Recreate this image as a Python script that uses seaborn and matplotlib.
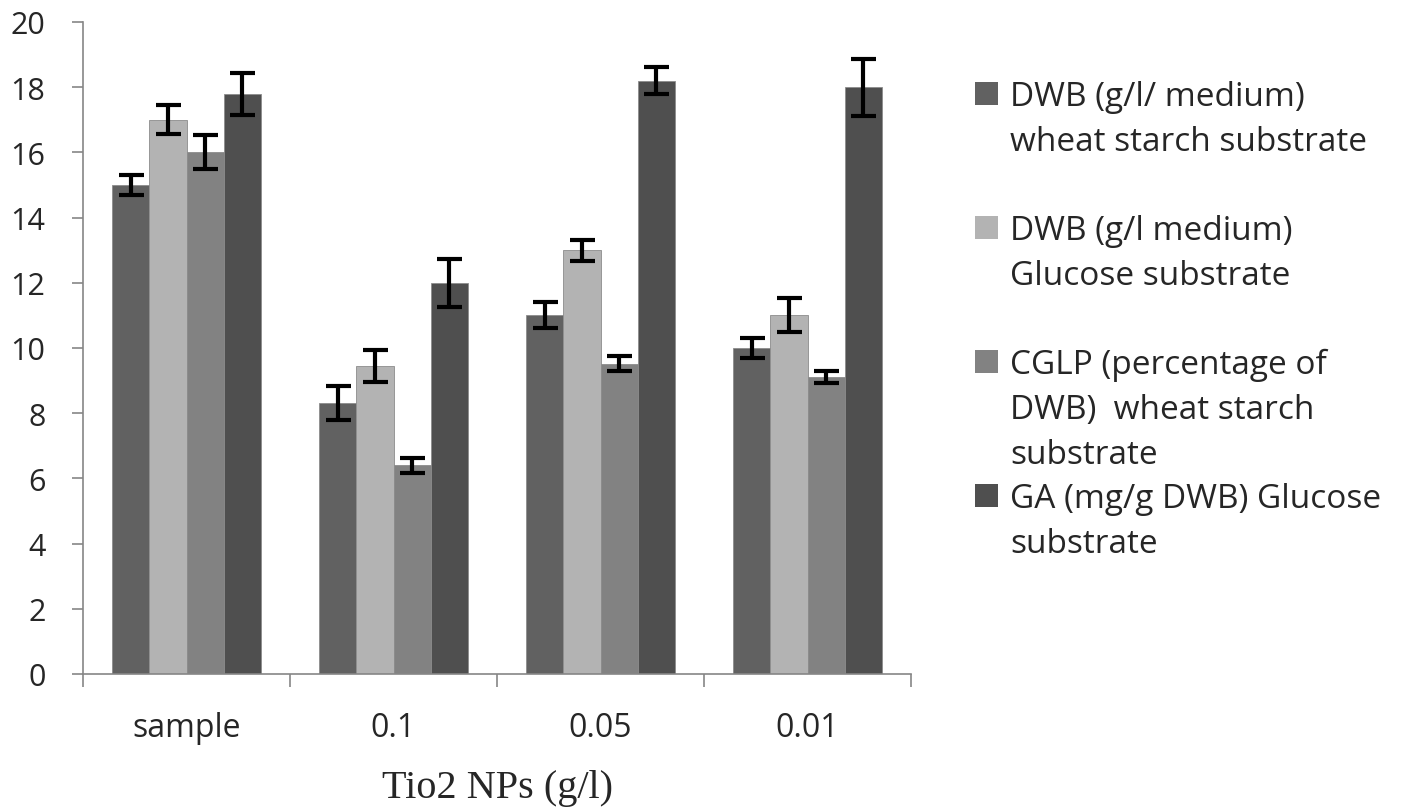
import matplotlib
matplotlib.use("Agg")
import matplotlib.pyplot as plt
import matplotlib.patches as mpatches
import seaborn as sns
import pandas as pd
import numpy as np

categories = ["sample", "0.1", "0.05", "0.01"]
series_names = [
    "DWB (g/l/ medium) wheat starch substrate",
    "DWB (g/l medium) Glucose substrate",
    "CGLP (percentage of DWB) wheat starch substrate",
    "GA (mg/g DWB) Glucose substrate",
]
legend_lines = [
    ["DWB (g/l/ medium)", "wheat starch substrate"],
    ["DWB (g/l medium)", "Glucose substrate"],
    ["CGLP (percentage of", "DWB)  wheat starch", "substrate"],
    ["GA (mg/g DWB) Glucose", "substrate"],
]
dwb_wheat = [15.0, 8.3, 11.0, 10.0]
dwb_wheat_err = [0.32, 0.52, 0.40, 0.31]
dwb_glucose = [17.0, 9.44, 13.0, 11.0]
dwb_glucose_err = [0.45, 0.49, 0.32, 0.52]
cglp_wheat = [16.0, 6.4, 9.52, 9.1]
cglp_wheat_err = [0.52, 0.24, 0.23, 0.18]
ga_glucose = [17.8, 12.0, 18.2, 18.0]
ga_glucose_err = [0.64, 0.73, 0.41, 0.87]
colors = ["#616161", "#b3b3b3", "#828282", "#4f4f4f"]
yticks = [0, 2, 4, 6, 8, 10, 12, 14, 16, 18, 20]
xlabel = "Tio2 NPs (g/l)"

values = [dwb_wheat, dwb_glucose, cglp_wheat, ga_glucose]
errors = [dwb_wheat_err, dwb_glucose_err, cglp_wheat_err, ga_glucose_err]

rows = []
for s, vals, errs in zip(series_names, values, errors):
    for c, v, e in zip(categories, vals, errs):
        rows.append({"cat": c, "series": s, "value": v, "err": e})
df = pd.DataFrame(rows)

sns.set_style("white")
plt.rcParams['font.family'] = ['Open Sans', 'DejaVu Sans']

fig = plt.figure(figsize=(14.18, 8.12), dpi=100)
ax = fig.add_axes([83/1418, 1-675/812, (911-83)/1418, (675-23)/812])

sns.barplot(data=df, x="cat", y="value", hue="series", order=categories,
            hue_order=series_names, palette=colors, width=0.72, errorbar=None,
            saturation=1, ax=ax, legend=False, edgecolor="#8c8c8c", linewidth=0.6)

# error bars at bar positions
for cont, errs in zip(ax.containers, errors):
    xs = [p.get_x() + p.get_width()/2 for p in cont.patches]
    hs = [p.get_height() for p in cont.patches]
    ax.errorbar(xs, hs, yerr=errs, fmt="none", ecolor="black",
                elinewidth=3, capsize=9, capthick=3, zorder=5)

ax.set_xlim(-0.5, len(categories) - 0.5)
ax.set_ylim(0, 20)
ax.set_yticks(yticks)
ax.set_yticklabels([str(t) for t in yticks], fontsize=22)
ax.tick_params(axis="y", length=8, width=1.2, color="#868686", pad=19, left=True)
ax.set_xticks(range(len(categories)))
ax.set_xticklabels(categories, fontsize=23)
ax.tick_params(axis="x", which="major", length=0, pad=27)
ax.set_xticks(np.arange(-0.5, len(categories), 1.0), minor=True)
ax.tick_params(axis="x", which="minor", length=9, width=1.2, color="#868686", bottom=True)
ax.set_xlabel(xlabel, family=["Liberation Serif"], fontsize=29, labelpad=18)
ax.set_ylabel("")
for side in ["top", "right"]:
    ax.spines[side].set_visible(False)
for side in ["left", "bottom"]:
    ax.spines[side].set_color("#868686")
    ax.spines[side].set_linewidth(1.2)

# legend: one row per text line, blank rows between entries
handles, labels = [], []
for i, (lines, col) in enumerate(zip(legend_lines, colors)):
    for j, line in enumerate(lines):
        if j == 0:
            handles.append(mpatches.Patch(facecolor=col, edgecolor="none"))
        else:
            handles.append(mpatches.Patch(facecolor="none", edgecolor="none"))
        labels.append(line)
    if i < 2:
        handles.append(mpatches.Patch(facecolor="none", edgecolor="none"))
        labels.append(" ")
leg = fig.legend(handles, labels, loc="upper left",
                 bbox_to_anchor=(975/1418, 1-81/812), frameon=False,
                 fontsize=24, handlelength=0.68, handleheight=0.68,
                 handletextpad=0.38, labelspacing=0.35, borderpad=0,
                 borderaxespad=0)

fig.savefig("out.png", dpi=100)
